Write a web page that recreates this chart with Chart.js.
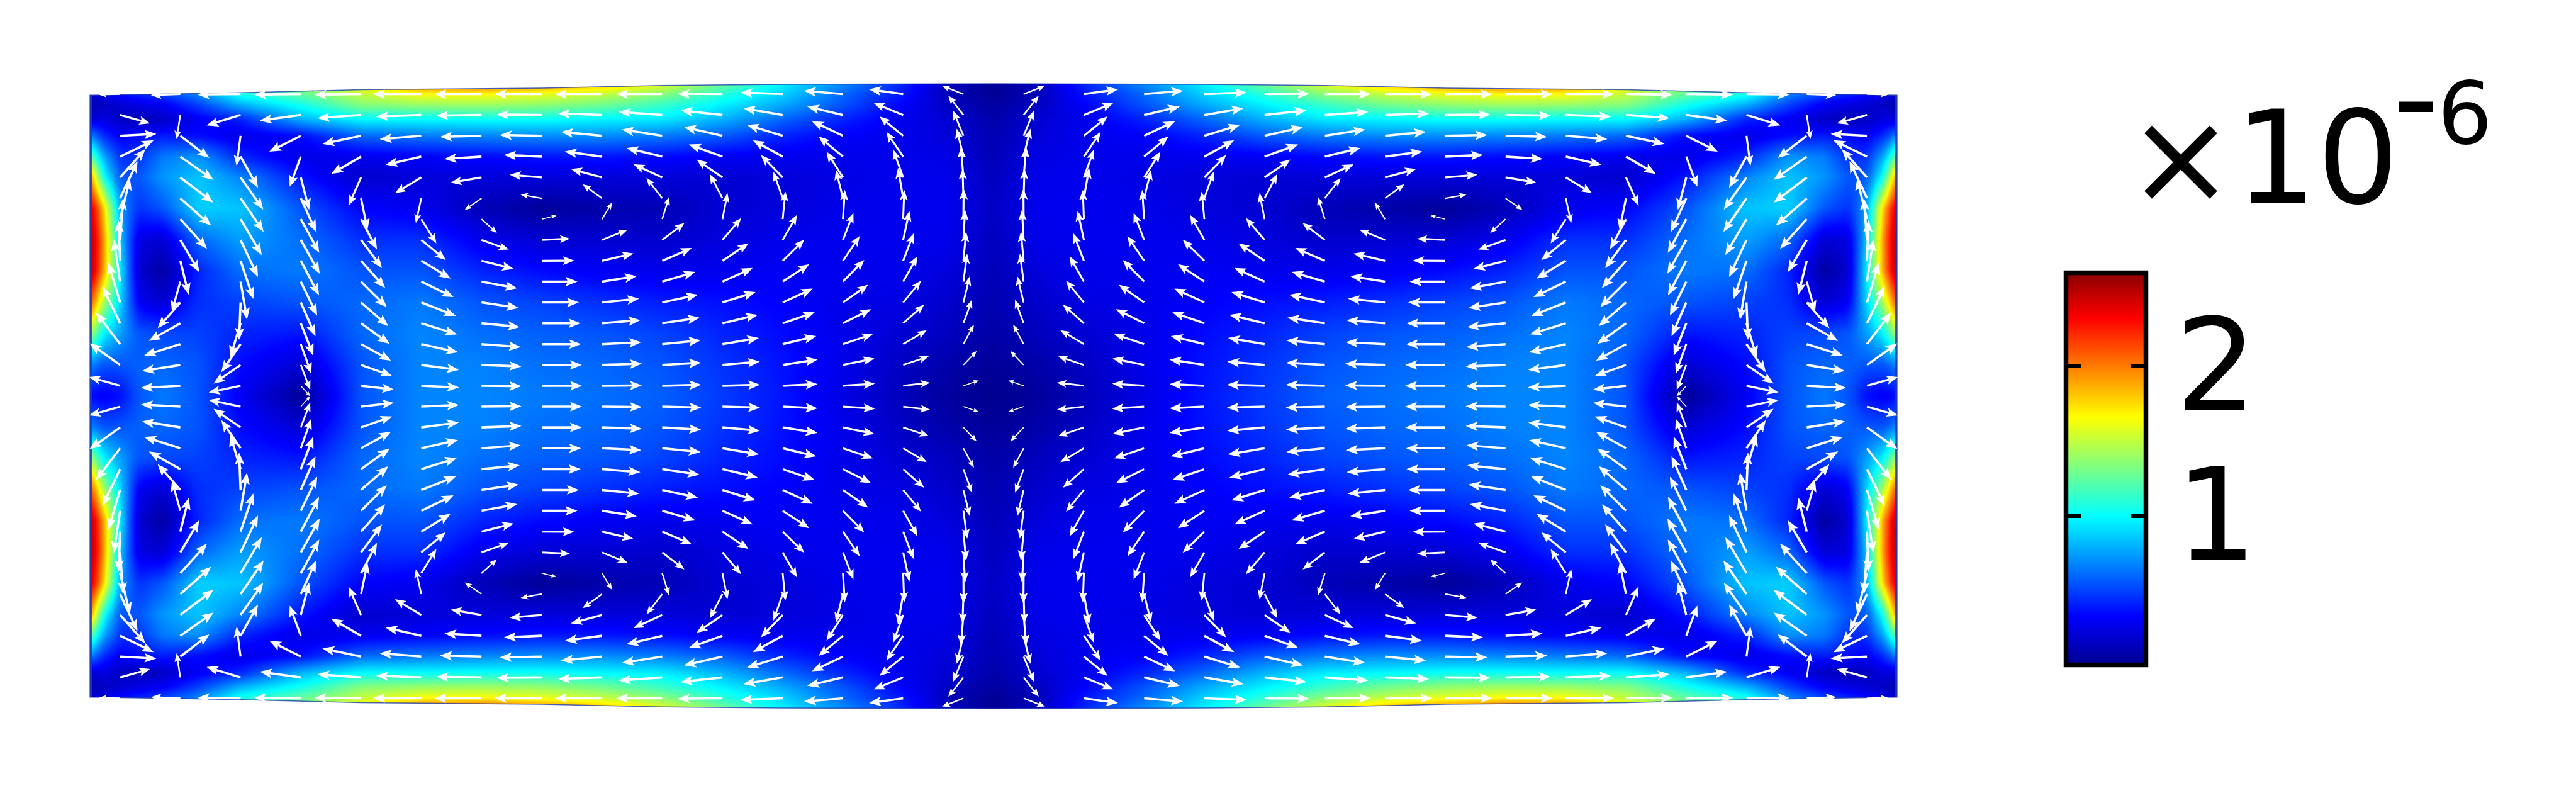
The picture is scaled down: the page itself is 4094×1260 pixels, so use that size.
<!DOCTYPE html>
<html>
<head>
<meta charset="utf-8">
<title>Field map</title>
<script src="https://cdn.jsdelivr.net/npm/chart.js@4"></script>
<style>
  html, body { margin: 0; background: #fff; }
  body { width: 4094px; height: 1260px; position: relative; overflow: hidden; }
  canvas { position: absolute; top: 0; }
  #fieldChart { left: 0; }
  #barChart { left: 3200px; }
</style>
</head>
<body>
<canvas id="fieldChart" width="3200" height="1260"></canvas>
<canvas id="barChart" width="894" height="1260"></canvas>
<script>
// colour scale (jet), values in units of 1e-6
const jetValues = [0, 0.33, 1.0, 1.66, 2.32, 2.65];
const jetColors = [[0, 0, 143], [0, 0, 255], [0, 255, 255], [255, 255, 0], [255, 0, 0], [128, 0, 0]];
const barTicks = [1, 2];
const barRange = [0.02, 2.61];

// top edge of the deformed domain, left half
const edgeX = [-15, -13.8, -12.5, -10.5, -7.5, -5.5, -3.5, 0];
const edgeY = [14.45, 14.5, 14.57, 14.71, 14.79, 14.92, 14.97, 15];

const heatX = [-15, -14.8, -14.5, -14.2, -13.8, -13.2, -12.5, -11.5, -10.5, -9.5, -8.5, -7.5, -6.5, -5.5, -4.5, -3.5, -2.5, -1.5, -0.75, 0];
const heatY = [15, 14.5, 14, 13.3, 12.5, 11.5, 10.5, 9, 7.5, 6, 4.5, 3, 1.5, 0];
const heat = [
  [.2, .2, .3, .4, .5, .7, 1.2, 1.4, 1.7, 2.05, 2.15, 2.0, 1.85, 1.6, 1.3, .97, .7, .42, .15, .02],
  [.2, .25, .35, .42, .5, .68, 1.05, 1.25, 1.5, 1.65, 1.65, 1.6, 1.5, 1.35, 1.1, .88, .6, .38, .12, .02],
  [.1, .15, .2, .25, .3, .5, .8, 1.05, 1.35, 1.4, 1.42, 1.38, 1.3, 1.15, .97, .78, .55, .32, .15, .05],
  [.2, .25, .15, .12, .15, .3, .42, .8, 1.0, 1.0, 1.02, 1.02, .98, .95, .8, .6, .42, .28, .2, .08],
  [.7, .45, .3, .35, .4, .35, .25, .35, .6, .65, .68, .7, .7, .65, .57, .42, .32, .27, .22, .1],
  [1.35, .8, .45, .45, .65, .72, .42, .25, .28, .32, .35, .38, .38, .35, .3, .28, .27, .27, .25, .12],
  [2.05, 1.1, .55, .55, .72, .85, .68, .38, .18, .22, .22, .22, .22, .22, .2, .22, .25, .28, .27, .14],
  [2.5, 1.9, .75, .45, .55, .88, .85, .55, .33, .28, .12, .03, .08, .12, .2, .22, .27, .28, .28, .16],
  [2.6, 2.05, .85, .25, .2, .6, .75, .62, .45, .45, .28, .2, .2, .18, .23, .27, .28, .28, .27, .14],
  [2.6, 2.0, .95, .2, .05, .42, .62, .65, .55, .55, .42, .35, .3, .27, .28, .3, .28, .27, .23, .12],
  [2.2, 1.5, .9, .3, .2, .45, .5, .55, .6, .65, .55, .5, .45, .4, .36, .32, .27, .24, .18, .1],
  [1.5, 1.0, .75, .55, .52, .5, .42, .38, .6, .68, .62, .58, .55, .5, .42, .35, .27, .2, .14, .07],
  [.7, .55, .55, .58, .6, .55, .35, .2, .55, .68, .67, .62, .6, .55, .46, .37, .27, .15, .08, .03],
  [.35, .3, .35, .55, .65, .55, .3, .02, .55, .68, .68, .65, .62, .58, .48, .38, .25, .13, .04, 0]
];

// arrows of the top left quarter, one row per line, x and y parts (y grows downwards)
const arrowX = [-14.5, -13.5, -12.5, -11.5, -10.5, -9.5, -8.5, -7.5, -6.5, -5.5, -4.5, -3.5, -2.5, -1.5, -0.5];
const arrowY = [14.5, 13.5, 12.5, 11.5, 10.5, 9.5, 8.5, 7.5, 6.5, 5.5, 4.5, 3.5, 2.5, 1.5, 0.5];
const arrowU = [
  [-100, -140, -205, -223, -222, -230, -225, -225, -225, -219, -213, -202, -186, -163, -102],
  [143, -18, -162, -195, -207, -215, -215, -215, -210, -207, -200, -187, -170, -140, -72],
  [173, 138, -19, -150, -184, -198, -198, -200, -195, -192, -183, -170, -148, -113, -49],
  [160, 158, 83, -53, -142, -170, -177, -180, -177, -170, -160, -142, -116, -80, -32],
  [120, 158, 108, 40, -60, -125, -147, -153, -148, -137, -123, -104, -78, -48, -12],
  [83, 147, 110, 73, 31, -26, -80, -101, -92, -75, -60, -45, -33, -25, -4],
  [47, 127, 101, 88, 76, 72, 73, 70, 48, 33, 24, 13, 9, 5, 1],
  [15, 90, 83, 90, 100, 117, 130, 134, 122, 106, 89, 68, 50, 30, 8],
  [-7, 40, 61, 87, 115, 140, 153, 155, 150, 141, 124, 103, 80, 50, 13],
  [-30, -40, 31, 78, 123, 154, 170, 170, 166, 158, 144, 126, 102, 68, 18],
  [-57, -108, -7, 70, 130, 165, 177, 177, 177, 170, 158, 143, 120, 85, 30],
  [-85, -150, -49, 60, 136, 170, 182, 185, 183, 178, 168, 153, 134, 100, 41],
  [-115, -172, -92, 50, 143, 175, 187, 187, 187, 183, 174, 160, 143, 112, 50],
  [-145, -182, -129, 45, 148, 179, 190, 191, 190, 185, 178, 166, 150, 122, 63],
  [-147, -188, -152, 45, 156, 180, 190, 192, 190, 186, 179, 166, 152, 128, 73]
];
const arrowV = [
  [3, 5, 2, 2, 2, 0, 0, 0, 0, 0, -2, -8, -16, -23, -40],
  [40, 115, 50, 27, 15, 8, 3, -2, -7, -15, -22, -32, -40, -57, -92],
  [-9, 106, 143, 76, 39, 16, 5, -4, -19, -30, -42, -52, -70, -92, -120],
  [-78, 111, 149, 144, 82, 39, 11, -8, -24, -41, -58, -78, -96, -118, -134],
  [-135, 120, 153, 155, 135, 75, 25, -13, -40, -63, -85, -107, -123, -133, -145],
  [-177, 130, 160, 160, 150, 118, 55, -18, -67, -97, -115, -127, -135, -145, -140],
  [-194, 141, 171, 161, 144, 116, 66, -17, -79, -106, -124, -131, -139, -139, -144],
  [-199, 153, 176, 161, 134, 96, 46, -6, -49, -81, -104, -119, -129, -139, -144],
  [-193, 162, 182, 165, 130, 85, 39, -1, -35, -61, -83, -101, -118, -131, -138],
  [-201, 142, 182, 162, 122, 74, 32, 0, -26, -46, -65, -83, -103, -121, -133],
  [-190, 123, 178, 161, 113, 64, 26, 0, -18, -37, -50, -66, -84, -104, -124],
  [-177, 84, 163, 155, 98, 53, 18, 0, -15, -27, -40, -52, -67, -89, -112],
  [-151, 54, 134, 141, 79, 39, 14, 0, -9, -18, -29, -38, -48, -66, -93],
  [-103, 29, 89, 119, 52, 24, 7, 0, -6, -11, -16, -26, -31, -41, -66],
  [-42, 10, 32, 50, 18, 8, 2, 0, -2, -5, -5, -8, -10, -15, -25]
];
const arrowScaleX = 1 / 287;
const arrowScaleY = 1 / 99.3;

function jet(v) {
  let i = 0;
  while (i < jetValues.length - 2 && v > jetValues[i + 1]) i++;
  let t = (v - jetValues[i]) / (jetValues[i + 1] - jetValues[i]);
  t = Math.max(0, Math.min(1, t));
  return jetColors[i].map((c, k) => c + (jetColors[i + 1][k] - c) * t);
}

function heatAt(x, y) {
  const ax = -Math.abs(x), ay = Math.abs(y);
  let i = 0, j = 0;
  while (i < heatX.length - 2 && ax > heatX[i + 1]) i++;
  while (j < heatY.length - 2 && ay < heatY[j + 1]) j++;
  const tx = (ax - heatX[i]) / (heatX[i + 1] - heatX[i]);
  const ty = (ay - heatY[j]) / (heatY[j + 1] - heatY[j]);
  const a = heat[j][i] + (heat[j][i + 1] - heat[j][i]) * tx;
  const b = heat[j + 1][i] + (heat[j + 1][i + 1] - heat[j + 1][i]) * tx;
  return a + (b - a) * ty;
}

// every node and arrow, mirrored over the four quarters
let heatPoints = [];
heatY.forEach((y, j) => heatX.forEach((x, i) => {
  [1, -1].forEach(sx => [1, -1].forEach(sy => heatPoints.push({ x: sx * x, y: sy * y, v: heat[j][i] })));
}));
let arrowPoints = [];
arrowY.forEach((y, j) => arrowX.forEach((x, i) => {
  [1, -1].forEach(sx => [1, -1].forEach(sy => {
    arrowPoints.push({ x: sx * x, y: sy * y, u: sx * arrowU[j][i], v: sy * arrowV[j][i] });
  }));
}));

function outline(chart) {
  const { x, y } = chart.scales;
  let pts = [];
  edgeX.forEach((e, i) => pts.push([x.getPixelForValue(e), y.getPixelForValue(edgeY[i])]));
  for (let i = edgeX.length - 2; i >= 0; i--) pts.push([x.getPixelForValue(-edgeX[i]), y.getPixelForValue(edgeY[i])]);
  for (let i = 0; i < edgeX.length; i++) pts.push([x.getPixelForValue(-edgeX[i]), y.getPixelForValue(-edgeY[i])]);
  for (let i = edgeX.length - 2; i >= 0; i--) pts.push([x.getPixelForValue(edgeX[i]), y.getPixelForValue(-edgeY[i])]);
  return pts;
}

// soften the grid creases, edges are clamped so the left strip keeps its colour
function softenField(vals, w, h, rx, ry) {
  const tmp = new Float32Array(vals.length);
  for (let r = 0; r < h; r++) {
    for (let c = 0; c < w; c++) {
      let s = 0;
      for (let k = -rx; k <= rx; k++) s += vals[r * w + Math.max(0, Math.min(w - 1, c + k))];
      tmp[r * w + c] = s / (2 * rx + 1);
    }
  }
  for (let c = 0; c < w; c++) {
    for (let r = 0; r < h; r++) {
      let s = 0;
      for (let k = -ry; k <= ry; k++) s += tmp[Math.max(0, Math.min(h - 1, r + k)) * w + c];
      vals[r * w + c] = s / (2 * ry + 1);
    }
  }
}

const heatPlugin = {
  id: 'heat',
  beforeDatasetsDraw(chart) {
    const { ctx, chartArea: a, scales: { x, y } } = chart;
    const w = Math.round(a.width / 2), h = Math.round(a.height / 2);
    const vals = new Float32Array(w * h);
    for (let r = 0; r < h; r++) {
      const vy = y.getValueForPixel(a.top + (r + 0.5) * 2);
      for (let c = 0; c < w; c++) {
        vals[r * w + c] = heatAt(x.getValueForPixel(a.left + (c + 0.5) * 2), vy);
      }
    }
    softenField(vals, w, h, 4, 2);

    const off = document.createElement('canvas');
    off.width = w;
    off.height = h;
    const oc = off.getContext('2d');
    const img = oc.createImageData(w, h);
    for (let p = 0; p < w * h; p++) {
      const col = jet(vals[p]);
      img.data[p * 4] = col[0];
      img.data[p * 4 + 1] = col[1];
      img.data[p * 4 + 2] = col[2];
      img.data[p * 4 + 3] = 255;
    }
    oc.putImageData(img, 0, 0);

    const pts = outline(chart);
    ctx.save();
    ctx.beginPath();
    pts.forEach((p, i) => i ? ctx.lineTo(p[0], p[1]) : ctx.moveTo(p[0], p[1]));
    ctx.closePath();
    ctx.clip();
    ctx.imageSmoothingEnabled = true;
    ctx.imageSmoothingQuality = 'high';
    ctx.drawImage(off, a.left, a.top, a.width, a.height);
    ctx.restore();

    ctx.save();
    ctx.strokeStyle = 'rgba(30, 60, 170, 0.8)';
    ctx.beginPath();
    pts.forEach((p, i) => i ? ctx.lineTo(p[0], p[1]) : ctx.moveTo(p[0], p[1]));
    ctx.closePath();
    ctx.lineWidth = 1.5;
    ctx.stroke();
    // the thin blue rim on the short sides
    const yTop = y.getPixelForValue(edgeY[0]), yBottom = y.getPixelForValue(-edgeY[0]);
    ctx.lineWidth = 3;
    ctx.beginPath();
    ctx.moveTo(a.left + 1.5, yTop);
    ctx.lineTo(a.left + 1.5, yBottom);
    ctx.moveTo(a.right - 1.5, yTop);
    ctx.lineTo(a.right - 1.5, yBottom);
    ctx.stroke();
    ctx.restore();
  }
};

const arrowPlugin = {
  id: 'arrows',
  afterDatasetsDraw(chart) {
    const { ctx, scales: { x, y } } = chart;
    ctx.save();
    ctx.fillStyle = '#fff';
    ctx.strokeStyle = '#fff';
    arrowPoints.forEach(p => {
      const x0 = x.getPixelForValue(p.x), y0 = y.getPixelForValue(p.y);
      const x1 = x.getPixelForValue(p.x + p.u * arrowScaleX), y1 = y.getPixelForValue(p.y - p.v * arrowScaleY);
      const dx = x1 - x0, dy = y1 - y0, len = Math.hypot(dx, dy);
      if (len < 1) return;
      const ux = dx / len, uy = dy / len;
      const head = Math.min(19, len * 0.35), half = head * 0.4;
      ctx.lineWidth = Math.min(3.6, Math.max(1, len * 0.065));
      ctx.beginPath();
      ctx.moveTo(x0, y0);
      ctx.lineTo(x1 - ux * head * 0.8, y1 - uy * head * 0.8);
      ctx.stroke();
      ctx.beginPath();
      ctx.moveTo(x1, y1);
      ctx.lineTo(x1 - ux * head - uy * half, y1 - uy * head + ux * half);
      ctx.lineTo(x1 - ux * head * 0.8, y1 - uy * head * 0.8);
      ctx.lineTo(x1 - ux * head + uy * half, y1 - uy * head - ux * half);
      ctx.closePath();
      ctx.fill();
    });
    ctx.restore();
  }
};

new Chart(document.getElementById('fieldChart'), {
  type: 'scatter',
  data: {
    datasets: [
      { label: 'magnitude', data: heatPoints, pointRadius: 0 },
      { label: 'direction', data: arrowPoints, pointRadius: 0 }
    ]
  },
  options: {
    responsive: false,
    animation: false,
    layout: { padding: { left: 143, right: 185, top: 133, bottom: 134 } },
    plugins: { legend: { display: false }, tooltip: { enabled: false } },
    scales: {
      x: { type: 'linear', min: -15, max: 15, display: false },
      y: { type: 'linear', min: -15, max: 15, display: false }
    }
  },
  plugins: [heatPlugin, arrowPlugin]
});

// colour bar, its frame, inner ticks and the exponent
const barPlugin = {
  id: 'barFrame',
  afterDatasetsDraw(chart) {
    const { ctx, chartArea: a, scales: { y } } = chart;
    ctx.save();
    ctx.strokeStyle = '#000';
    ctx.lineWidth = 7.5;
    ctx.strokeRect(a.left - 3.5, a.top - 3.5, a.width + 7, a.height + 7);
    ctx.lineWidth = 6;
    barTicks.forEach(t => {
      const py = y.getPixelForValue(t);
      ctx.beginPath();
      ctx.moveTo(a.left, py);
      ctx.lineTo(a.left + 20, py);
      ctx.moveTo(a.right - 21, py);
      ctx.lineTo(a.right, py);
      ctx.stroke();
    });
    ctx.fillStyle = '#000';
    ctx.textBaseline = 'alphabetic';
    ctx.textAlign = 'left';
    ctx.font = '205px "DejaVu Sans"';
    ctx.fillText('×10', 180, 322);
    ctx.fillText('-', 603, 226);
    ctx.font = '137px "DejaVu Sans"';
    ctx.fillText('6', 674, 228);
    ctx.restore();
  }
};

new Chart(document.getElementById('barChart'), {
  type: 'bar',
  data: {
    labels: ['scale'],
    datasets: [{
      data: [barRange],
      barPercentage: 1,
      categoryPercentage: 1,
      backgroundColor(c) {
        const { ctx, chartArea, scales } = c.chart;
        if (!chartArea) return '#00f';
        const y0 = scales.y.getPixelForValue(jetValues[0]);
        const y1 = scales.y.getPixelForValue(jetValues[jetValues.length - 1]);
        const g = ctx.createLinearGradient(0, y0, 0, y1);
        jetValues.forEach((v, i) => g.addColorStop(v / jetValues[jetValues.length - 1], 'rgb(' + jetColors[i].join(',') + ')'));
        return g;
      }
    }]
  },
  options: {
    responsive: false,
    animation: false,
    layout: { padding: { left: 87, right: 0, top: 437, bottom: 207 } },
    plugins: { legend: { display: false }, tooltip: { enabled: false } },
    scales: {
      x: { display: false },
      y: {
        position: 'right',
        min: barRange[0],
        max: barRange[1],
        grid: { display: false },
        border: { display: false },
        afterFit(scale) { scale.width = 687; },
        afterBuildTicks(scale) { scale.ticks = barTicks.map(v => ({ value: v })); },
        ticks: {
          padding: 42,
          labelOffset: 17,
          color: '#000',
          font: { family: '"DejaVu Sans"', size: 205 },
          callback(v) { return String(v); }
        }
      }
    }
  },
  plugins: [barPlugin]
});
</script>
</body>
</html>
